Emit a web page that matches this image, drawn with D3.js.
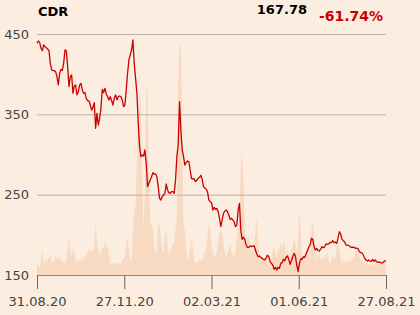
<!DOCTYPE html>
<html><head><meta charset="utf-8">
<script src="https://cdn.jsdelivr.net/npm/d3@7"></script>
<style>
html,body{margin:0;padding:0;background:#fcede1;}
svg{display:block;font-family:"DejaVu Sans",sans-serif;}
</style></head>
<body>
<svg id="c" width="420" height="315"></svg>
<script>
const ticker = "CDR";
const lastPrice = "167.78";
const changePct = "-61.74%";
const xTickLabels = ["31.08.20","27.11.20","02.03.21","01.06.21","27.08.21"];
const yTicks = [150,250,350,450];

const prices = [
438.5,441.3,439.6,432.2,429.3,436.3,434.3,433.0,431.3,429.3,413.5,405.2,404.4,404.4,403.1,396.9,386.5,401.1,406.0,404.4,413.5,430.1,429.3,409.4,384.5,396.9,399.0,376.2,385.3,386.5,374.1,378.2,386.5,388.6,380.3,376.2,377.0,369.9,367.0,366.6,361.6,355.4,358.7,364.5,332.6,351.3,336.7,345.0,357.5,381.1,377.0,382.4,375.3,
372.0,367.9,372.0,367.0,361.6,369.9,374.1,367.9,372.0,372.8,372.0,367.9,359.6,361.6,380.3,401.1,417.7,423.9,430.1,442.6,413.5,394.8,376.2,338.8,309.8,297.3,299.4,298.1,305.6,289.0,260.0,264.1,268.3,272.4,277.4,275.7,275.7,272.4,260.0,245.4,243.4,247.5,249.6,251.7,263.3,255.8,252.5,251.7,253.7,253.7,251.7,268.3,297.3,
311.8,365.8,330.5,305.6,297.3,286.9,289.8,291.9,291.1,280.7,269.9,269.5,269.9,266.2,268.3,270.3,271.6,274.1,269.1,260.0,258.3,257.0,253.7,243.4,241.3,240.0,230.9,234.2,231.7,233.0,228.8,220.5,210.2,218.5,226.8,229.7,230.9,228.8,224.7,219.3,220.5,218.5,216.4,210.2,212.2,230.9,239.2,206.0,194.4,196.9,194.4,187.3,
184.4,184.4,186.1,185.3,186.1,186.1,181.1,176.1,172.8,173.6,172.0,170.7,169.5,168.7,171.1,174.5,172.8,166.6,164.5,162.4,157.0,159.5,156.2,159.5,158.3,164.5,165.3,169.5,167.8,172.0,173.6,169.5,163.3,167.8,172.8,176.9,173.6,162.4,154.1,164.5,170.3,169.5,172.8,172.0,176.1,180.3,184.4,187.3,195.6,194.4,185.3,181.1,183.2,
180.3,179.9,182.3,185.3,184.0,185.3,188.6,188.2,188.6,190.6,190.2,192.7,190.2,191.1,189.4,195.6,203.9,201.0,194.4,192.7,191.1,187.3,186.9,186.9,185.3,184.4,184.8,184.4,183.2,183.6,182.8,179.0,177.8,177.4,174.9,170.7,168.7,167.4,168.7,167.4,167.0,169.5,167.0,168.7,166.2,165.8,166.2,165.3,164.9,165.8,167.4,167.78
];

const volumes = [
10,9,7,15,27,12,13,15,15,17,20,13,12,15,22,15,18,17,15,13,12,12,15,25,40,25,18,27,23,15,13,15,14,15,16,20,15,22,21,27,23,25,25,27,53,32,23,25,18,28,27,32,28,
28,20,12,10,12,11,12,12,11,12,11,15,17,18,35,37,25,15,17,45,63,68,118,162,185,168,95,45,85,187,185,95,52,52,45,25,22,25,52,52,38,25,22,42,45,28,22,23,28,30,32,45,58,
195,235,225,145,48,45,28,15,18,25,38,28,15,12,12,13,16,15,15,18,22,28,38,52,45,32,22,18,18,23,32,42,45,42,32,22,18,22,25,32,23,20,18,25,35,45,58,112,122,95,45,32,
38,38,28,22,25,25,45,58,32,22,18,15,15,18,22,18,15,12,15,25,27,22,18,28,25,33,25,32,32,18,28,22,18,25,28,38,32,22,38,63,42,18,15,18,22,18,32,15,45,53,38,25,15,
18,25,15,18,15,22,15,23,15,12,15,22,15,18,28,35,25,15,12,15,12,13,12,15,12,15,18,15,25,28,22,18,15,13,12,12,10,12,10,12,8,12,8,12,10,12,9,12,10,12,12,12
];

const svg = d3.select("#c");
const L = 37, R = 386, T = 34, B = 275;
const N = prices.length;
const x = d3.scaleLinear().domain([0, N - 1]).range([L, R]);
const y = d3.scaleLinear().domain([150, 450]).range([B, T]);
const yv = d3.scaleLinear().domain([0, 240]).range([B, B - 240]);

// volume area
svg.append("path")
  .datum(volumes)
  .attr("fill", "#f8d9c2")
  .attr("d", d3.area().x((d, i) => x(i * (N - 1) / (volumes.length - 1))).y0(B).y1(d => yv(d)));

// grid lines
const yAxis = d3.axisLeft(y).tickValues(yTicks).tickSize(-(R - L)).tickFormat(d3.format("d"));
const gy = svg.append("g").attr("transform", `translate(${L},0)`).call(yAxis);
gy.select(".domain").remove();
gy.selectAll(".tick line").attr("stroke", "#b9b3ad").attr("stroke-width", 1);
gy.selectAll(".tick text").attr("x", -8).attr("fill", "#444").attr("font-size", 13)
  .attr("font-family", "DejaVu Sans");

// x axis
const tickIdx = xTickLabels.map((_, i) => i * (N - 1) / (xTickLabels.length - 1));
const xAxis = d3.axisBottom(x).tickValues(tickIdx).tickSize(14).tickFormat((d, i) => xTickLabels[i]);
const gx = svg.append("g").attr("transform", `translate(0,${B})`).call(xAxis);
gx.select(".domain").attr("stroke", "#8f8a86").attr("d", `M${L},0.5H${R}`);
gx.selectAll(".tick line").attr("stroke", "#666");
gx.selectAll(".tick text").attr("y", 22).attr("fill", "#444").attr("font-size", 13)
  .attr("font-family", "DejaVu Sans");

// price line
svg.append("path")
  .datum(prices)
  .attr("fill", "none")
  .attr("stroke", "#cc0000")
  .attr("stroke-width", 1.3)
  .attr("stroke-linejoin", "round")
  .attr("d", d3.line().x((d, i) => x(i)).y(d => y(d)));

// header
svg.append("text").attr("x", 38).attr("y", 16).attr("font-weight", "bold").attr("font-size", 13)
  .attr("fill", "#000").text(ticker);
svg.append("text").attr("x", 307).attr("y", 14).attr("text-anchor", "end").attr("font-weight", "bold")
  .attr("font-size", 13).attr("fill", "#000").text(lastPrice);
svg.append("text").attr("x", 383).attr("y", 21).attr("text-anchor", "end").attr("font-weight", "bold")
  .attr("font-size", 14).attr("fill", "#cc0000").text(changePct);
</script>
</body></html>
